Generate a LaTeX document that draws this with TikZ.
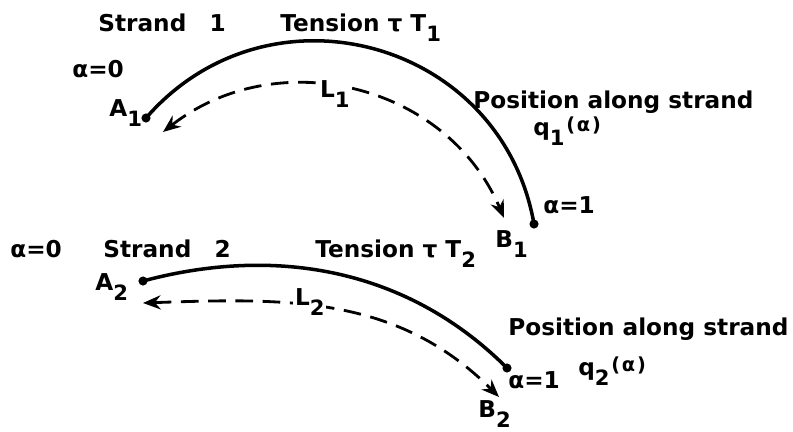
\documentclass[tikz,border=0pt]{standalone}
\usepackage{fontspec}
\setmainfont{DejaVu Sans}
\usetikzlibrary{arrows.meta}
\newcommand{\sub}[1]{\raisebox{-6pt}{\fontsize{12}{12}\selectfont #1}}
\newcommand{\qpos}[1]{q\sub{#1}\kern1pt\raisebox{2pt}{\fontsize{11}{11}\selectfont(\kern1pt α\kern1pt)}}

\begin{document}
\begin{tikzpicture}[>={Stealth[length=10pt,width=8pt]},
  strand/.style={line width=2pt},
  span/.style={<->,line width=1.6pt,dash pattern=on 10pt off 5.5pt},
  dot/.style={circle,fill,inner sep=0pt,minimum size=5.2pt},
  lbl/.style={anchor=base west,inner sep=0pt,font=\fontsize{13.2}{16}\selectfont\bfseries}]
  \useasboundingbox (0,0) rectangle (15.86,8.62);

  % strand 1
  \node[dot] (A1) at (2.92,6.26) {};
  \node[dot] (B1) at (10.68,4.14) {};
  \coordinate (L1a) at (3.26,5.98);
  \coordinate (L1b) at (10.08,4.26);
  \draw[strand] (A1.center) to[out=49,in=100,looseness=1.19] (B1.center);
  \draw[span] (L1a) to[out=38,in=113,looseness=1.06] (L1b);
  \node[lbl,fill=white,inner sep=1pt] (len1) at (6.36,6.68) {L\sub{1}};

  \node[lbl] (name1) at (1.96,8.00) {Strand\quad 1};
  \node[lbl] (tens1) at (5.60,8.00) {Tension τ T\sub{1}};
  \node[lbl] (a01) at (1.44,7.08) {α=0};
  \node[lbl] (labA1) at (2.18,6.30) {A\sub{1}};
  \node[lbl] (pos1) at (9.46,6.46) {Position\ along\ strand};
  \node[lbl] (q1) at (10.66,5.92) {\qpos{1}};
  \node[lbl] (a11) at (10.86,4.36) {α=1};
  \node[lbl] (labB1) at (9.90,3.68) {B\sub{1}};

  % strand 2
  \node[dot] (A2) at (2.86,3.00) {};
  \node[dot] (B2) at (10.14,1.26) {};
  \coordinate (L2a) at (2.86,2.56);
  \coordinate (L2b) at (9.98,0.68);
  \draw[strand] (A2.center) to[out=15,in=135,looseness=0.95] (B2.center);
  \draw[span] (L2a) to[out=2,in=135] (L2b);
  \node[lbl,fill=white,inner sep=1pt] (len2) at (5.86,2.52) {L\sub{2}};

  \node[lbl] (a02) at (0.20,3.48) {α=0};
  \node[lbl] (name2) at (2.06,3.48) {Strand\quad 2};
  \node[lbl] (tens2) at (6.30,3.48) {Tension τ T\sub{2}};
  \node[lbl] (labA2) at (1.90,2.82) {A\sub{2}};
  \node[lbl] (pos2) at (10.16,1.92) {Position\ along\ strand};
  \node[lbl] (q2) at (11.56,1.12) {\qpos{2}};
  \node[lbl] (a12) at (10.16,0.86) {α=1};
  \node[lbl] (labB2) at (9.56,0.28) {B\sub{2}};
\end{tikzpicture}
\end{document}
